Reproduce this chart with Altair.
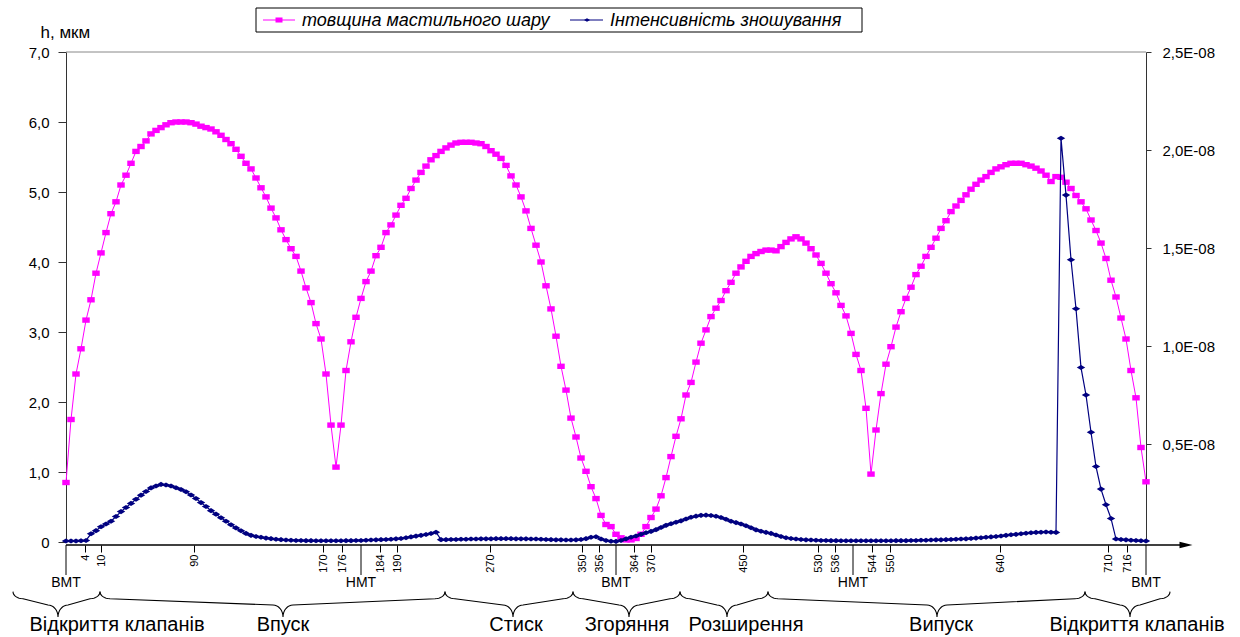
import math
import altair as alt
import pandas as pd

# ---------------- data (equally spaced calculation points, Excel-style category axis) ----------------
# h: oil film thickness, um (left axis)
h = [
    0.85, 1.75, 2.40, 2.76, 3.17, 3.46, 3.84, 4.13, 4.42, 4.69,
    4.86, 5.10, 5.24, 5.41, 5.58, 5.65, 5.73, 5.83, 5.88, 5.92,
    5.96, 5.99, 6.00, 6.00, 6.00, 5.99, 5.97, 5.94, 5.92, 5.90,
    5.86, 5.81, 5.75, 5.69, 5.61, 5.51, 5.41, 5.33, 5.20, 5.06,
    4.93, 4.77, 4.63, 4.46, 4.32, 4.19, 4.08, 3.87, 3.63, 3.42,
    3.12, 2.90, 2.40, 1.67, 1.07, 1.67, 2.45, 2.86, 3.21, 3.48,
    3.72, 3.87, 4.09, 4.21, 4.42, 4.53, 4.67, 4.81, 4.91, 5.05,
    5.17, 5.28, 5.37, 5.46, 5.52, 5.58, 5.63, 5.67, 5.70, 5.71,
    5.71, 5.71, 5.70, 5.69, 5.65, 5.59, 5.54, 5.48, 5.38, 5.23,
    5.10, 4.93, 4.73, 4.48, 4.24, 4.00, 3.66, 3.33, 2.94, 2.51,
    2.17, 1.77, 1.50, 1.20, 1.01, 0.79, 0.62, 0.38, 0.25, 0.22,
    0.11, 0.06, 0.03, 0.03, 0.05, 0.11, 0.22, 0.35, 0.47, 0.66,
    0.92, 1.22, 1.51, 1.76, 2.10, 2.28, 2.57, 2.84, 3.03, 3.22,
    3.34, 3.45, 3.59, 3.71, 3.84, 3.93, 4.01, 4.08, 4.12, 4.15,
    4.17, 4.17, 4.16, 4.22, 4.28, 4.33, 4.36, 4.33, 4.27, 4.19,
    4.10, 3.98, 3.84, 3.69, 3.56, 3.38, 3.23, 2.98, 2.68, 2.45,
    1.91, 0.97, 1.60, 2.12, 2.54, 2.79, 3.07, 3.29, 3.48, 3.64,
    3.82, 3.94, 4.08, 4.21, 4.34, 4.48, 4.59, 4.72, 4.80, 4.88,
    4.96, 5.04, 5.11, 5.17, 5.22, 5.28, 5.33, 5.36, 5.39, 5.41,
    5.41, 5.41, 5.39, 5.37, 5.34, 5.30, 5.24, 5.15, 5.22, 5.21,
    5.14, 5.05, 4.95, 4.86, 4.76, 4.60, 4.45, 4.27, 4.05, 3.74,
    3.50, 3.20, 2.90, 2.45, 2.06, 1.35, 0.86,
]

# wear intensity, in units of 1E-08 (right axis)
wear = [
    0.005, 0.005, 0.005, 0.006, 0.008, 0.042, 0.058, 0.078, 0.092, 0.106,
    0.130, 0.155, 0.176, 0.197, 0.218, 0.239, 0.258, 0.276, 0.286, 0.294,
    0.291, 0.286, 0.277, 0.268, 0.256, 0.240, 0.222, 0.201, 0.181, 0.160,
    0.142, 0.124, 0.106, 0.088, 0.072, 0.057, 0.044, 0.034, 0.028, 0.024,
    0.020, 0.017, 0.014, 0.012, 0.010, 0.009, 0.008, 0.008, 0.007, 0.007,
    0.006, 0.006, 0.006, 0.006, 0.006, 0.006, 0.007, 0.007, 0.008, 0.008,
    0.009, 0.010, 0.011, 0.012, 0.013, 0.014, 0.016, 0.018, 0.022, 0.026,
    0.030, 0.034, 0.038, 0.043, 0.050, 0.012, 0.012, 0.013, 0.013, 0.014,
    0.014, 0.015, 0.015, 0.016, 0.016, 0.016, 0.017, 0.017, 0.017, 0.017,
    0.016, 0.016, 0.016, 0.015, 0.015, 0.014, 0.013, 0.012, 0.011, 0.011,
    0.010, 0.010, 0.011, 0.013, 0.017, 0.024, 0.027, 0.015, 0.008, 0.004,
    0.003, 0.008, 0.016, 0.024, 0.031, 0.039, 0.047, 0.054, 0.063, 0.074,
    0.085, 0.093, 0.101, 0.108, 0.117, 0.126, 0.132, 0.136, 0.137, 0.135,
    0.131, 0.125, 0.116, 0.106, 0.099, 0.092, 0.083, 0.073, 0.062, 0.055,
    0.049, 0.044, 0.036, 0.028, 0.022, 0.018, 0.015, 0.013, 0.011, 0.010,
    0.009, 0.008, 0.008, 0.007, 0.007, 0.006, 0.006, 0.006, 0.006, 0.006,
    0.006, 0.006, 0.006, 0.006, 0.006, 0.006, 0.007, 0.007, 0.007, 0.008,
    0.008, 0.009, 0.009, 0.010, 0.011, 0.011, 0.012, 0.013, 0.014, 0.015,
    0.016, 0.018, 0.020, 0.022, 0.024, 0.026, 0.028, 0.031, 0.034, 0.037,
    0.039, 0.042, 0.045, 0.047, 0.049, 0.050, 0.051, 0.050, 0.049, 2.060,
    1.770, 1.440, 1.190, 0.890, 0.750, 0.560, 0.385, 0.270, 0.190, 0.120,
    0.015, 0.013, 0.011, 0.009, 0.008, 0.006, 0.005,
]
assert len(h) == len(wear) == 217

# crank-angle tick labels, placed at their category position
tick_pos = [3.8, 7.0, 25.6, 51.4, 55.2, 62.8, 66.2, 84.8, 103.2, 106.6,
            113.6, 117.0, 135.4, 150.4, 153.8, 161.2, 164.8, 186.8, 208.4, 212.2]
tick_lab = ['4', '10', '90', '170', '176', '184', '190', '270', '350', '356',
            '364', '370', '450', '530', '536', '544', '550', '640', '710', '716']
dead_pos = [0, 59, 110, 157.4, 216]
dead_lab = ['ВМТ', 'НМТ', 'ВМТ', 'НМТ', 'ВМТ']

phase_lab = ['Відкриття клапанів', 'Впуск', 'Стиск', 'Згоряння', 'Розширення',
             'Випуск', 'Відкриття клапанів']
phase_pos = [10.2, 43.4, 90.0, 112.2, 136.0, 175.0, 214.2]
brace_from = [-10.6, 6.8, 75.8, 101.4, 122.8, 140.4, 203.8]
brace_to = [6.8, 75.8, 101.4, 122.8, 140.4, 203.8, 220.8]
brace_tip = [-1.6, 43.4, 89.4, 112.6, 132.2, 174.2, 212.8]

legend_lab = ['товщина мастильного шару', 'Інтенсивність зношування']

MAGENTA = '#FF00FF'
NAVY = '#000080'
FONT = 'Liberation Sans'


# ---------------- brace annotation geometry ----------------
def brace_rows(a, b, t, idx):
    y_end, y_fe, y_ft, y_tip = -0.71, -0.81, -0.90, -1.07
    rx = 2.0
    n = 8
    pts = []
    for j in range(n + 1):
        th = (math.pi / 2) * j / n
        pts.append((a + rx * (1 - math.cos(th)), y_end + (y_fe - y_end) * math.sin(th)))
    for j in range(n + 1):
        ph = (math.pi / 2) * j / n
        pts.append((t - rx + rx * math.sin(ph), y_tip - (y_tip - y_ft) * math.cos(ph)))
    for j in range(n, -1, -1):
        ph = (math.pi / 2) * j / n
        pts.append((t + rx - rx * math.sin(ph), y_tip - (y_tip - y_ft) * math.cos(ph)))
    for j in range(n, -1, -1):
        th = (math.pi / 2) * j / n
        pts.append((b - rx * (1 - math.cos(th)), y_end + (y_fe - y_end) * math.sin(th)))
    return [{'i': x, 'h': y, 'brace': idx, 'k': k} for k, (x, y) in enumerate(pts)]


brace_data = []
for n_, (a, b, t) in enumerate(zip(brace_from, brace_to, brace_tip)):
    brace_data += brace_rows(a, b, t, n_)
bdf = pd.DataFrame(brace_data)

df = pd.DataFrame({'i': list(range(len(h))), 'h': h, 'w': wear})
pdf = pd.DataFrame({'i': phase_pos, 'label': phase_lab})
ddf = pd.DataFrame({'i': dead_pos, 'label': dead_lab})
dummy = pd.DataFrame({'d': [0]})

# ---------------- scales & axes ----------------
x_label_expr = ("[" + ",".join("'%s'" % s for s in tick_lab) + "][indexof(["
                + ",".join(str(p) for p in tick_pos) + "], datum.value)]")

x_axis = alt.Axis(values=tick_pos, labelExpr=x_label_expr, title=None, domain=False,
                  grid=False, offset=3, tickSize=7, tickColor='black', labelAngle=-90,
                  labelFontSize=11, labelPadding=2, labelOverlap=False, labelFlush=False,
                  labelColor='black', labelFont=FONT)
left_axis = alt.Axis(values=[0, 1, 2, 3, 4, 5, 6, 7], grid=False,
                     labelExpr="datum.value == 0 ? '0' : replace(format(datum.value, '.1f'), '.', ',')",
                     tickSize=8, labelPadding=9, labelFontSize=15, labelColor='black',
                     labelFont=FONT, domainColor='#333333', tickColor='#333333',
                     title='h, мкм', titleAngle=0, titleX=-26, titleY=-15, titleAlign='left',
                     titleBaseline='alphabetic', titleFontSize=17, titleFontWeight='normal',
                     titleFont=FONT, titleColor='black')
right_axis = alt.Axis(orient='right', values=[0.5, 1.0, 1.5, 2.0, 2.5], grid=False,
                      labelExpr="replace(format(datum.value, '.1f'), '.', ',') + 'E-08'",
                      tickSize=5, labelPadding=11, labelFontSize=15, labelColor='black',
                      labelFont=FONT, domainColor='#333333', tickColor='#333333', title=None)

X = alt.X('i:Q', scale=alt.Scale(domain=[0, 216], nice=False, zero=False), axis=x_axis)
YL = alt.Y('h:Q', scale=alt.Scale(domain=[0, 7], nice=False, zero=True), axis=left_axis)
YR = alt.Y('w:Q', scale=alt.Scale(domain=[0, 2.5], nice=False, zero=True), axis=right_axis)

RECT = 'M-1,-0.72L1,-0.72L1,0.72L-1,0.72Z'
DIAM = 'M-1,0L0,-0.6L1,0L0,0.6Z'
ARROW = 'M-1,-0.5L1,0L-1,0.5Z'

# ---------------- layers ----------------
h_line = alt.Chart(df).mark_line(color=MAGENTA, strokeWidth=1).encode(x=X, y=YL)
h_pts = alt.Chart(df).mark_point(shape=RECT, filled=True, size=56, color=MAGENTA,
                                 opacity=1).encode(x=X, y=YL)
w_line = alt.Chart(df).mark_line(color=NAVY, strokeWidth=1.2).encode(x=X, y=YR)
w_pts = alt.Chart(df).mark_point(shape=DIAM, filled=True, size=72, color=NAVY,
                                 opacity=1).encode(x=X, y=YR)

braces = alt.Chart(bdf).mark_line(color='black', strokeWidth=1.1).encode(
    x=X, y=YL, detail='brace:N', order='k:Q')
phase_text = alt.Chart(pdf).mark_text(fontSize=20, font=FONT, align='center',
                                      baseline='alphabetic', color='black').encode(
    x=X, y=alt.value(579), text='label:N')
dead_rule = alt.Chart(ddf).mark_rule(color='black', strokeWidth=1).encode(
    x=X, y=alt.value(493), y2=alt.value(523))
dead_text = alt.Chart(ddf).mark_text(fontSize=14, font=FONT, align='center',
                                     baseline='middle', color='black').encode(
    x=X, y=alt.value(531), text='label:N')

top_frame = alt.Chart(dummy).mark_rule(color='#888888', strokeWidth=1).encode(
    x=alt.value(0), x2=alt.value(1080), y=alt.value(0))
x_line = alt.Chart(dummy).mark_rule(color='black', strokeWidth=1.5).encode(
    x=alt.value(0), x2=alt.value(1115), y=alt.value(493))
x_arrow = alt.Chart(dummy).mark_point(shape=ARROW, filled=True, size=169, color='black',
                                      opacity=1).encode(x=alt.value(1120), y=alt.value(493))

leg_box = alt.Chart(dummy).mark_rect(fill='white', stroke='black', strokeWidth=1).encode(
    x=alt.value(190), x2=alt.value(796), y=alt.value(-44), y2=alt.value(-20))
leg_l1 = alt.Chart(dummy).mark_rule(color=MAGENTA, strokeWidth=1).encode(
    x=alt.value(197), x2=alt.value(229), y=alt.value(-32))
leg_p1 = alt.Chart(dummy).mark_point(shape=RECT, filled=True, size=49, color=MAGENTA,
                                     opacity=1).encode(x=alt.value(213), y=alt.value(-32))
leg_t1 = alt.Chart(dummy).mark_text(fontSize=18, font=FONT, fontStyle='italic', align='left',
                                    baseline='middle', color='black').encode(
    x=alt.value(236), y=alt.value(-31), text=alt.value(legend_lab[0]))
leg_l2 = alt.Chart(dummy).mark_rule(color=NAVY, strokeWidth=1).encode(
    x=alt.value(504), x2=alt.value(537), y=alt.value(-32))
leg_p2 = alt.Chart(dummy).mark_point(shape=DIAM, filled=True, size=36, color=NAVY,
                                     opacity=1).encode(x=alt.value(521), y=alt.value(-32))
leg_t2 = alt.Chart(dummy).mark_text(fontSize=18, font=FONT, fontStyle='italic', align='left',
                                    baseline='middle', color='black').encode(
    x=alt.value(544), y=alt.value(-31), text=alt.value(legend_lab[1]))

left_group = alt.layer(top_frame, h_line, h_pts, braces, phase_text, dead_rule, dead_text,
                       x_line, x_arrow, leg_box, leg_l1, leg_p1, leg_t1, leg_l2, leg_p2, leg_t2)
right_group = alt.layer(w_line, w_pts)

chart = alt.layer(left_group, right_group).resolve_scale(y='independent').properties(
    width=1080, height=490,
    autosize=alt.AutoSizeParams(type='none'),
    padding={'left': 66, 'top': 52, 'right': 94, 'bottom': 95},
    background='white',
).configure(font=FONT).configure_view(stroke=None)

chart.save('out.html', embed_options={'renderer': 'svg', 'actions': False})
